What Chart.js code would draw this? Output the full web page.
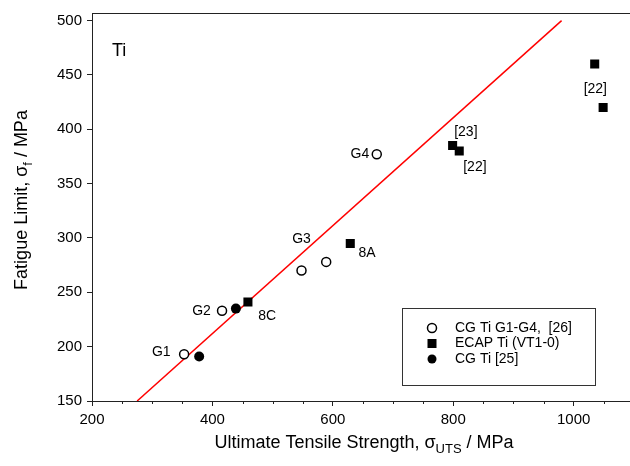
<!DOCTYPE html>
<html>
<head>
<meta charset="utf-8">
<script src="https://cdn.jsdelivr.net/npm/chart.js@4/dist/chart.umd.min.js"></script>
<style>
  body { margin: 0; background: #fff; }
  #wrap { width: 630px; height: 466px; }
</style>
</head>
<body>
<div id="wrap"><canvas id="myChart" width="630" height="466"></canvas></div>
<script>
// -- data --
const seriesNames = ['CG Ti G1-G4,  [26]', 'ECAP Ti (VT1-0)', 'CG Ti [25]'];

const cgUts     = [353, 416, 548, 589, 673];
const cgFatigue = [193, 233, 270, 278, 377];

const ecapUts     = [459, 629, 799, 810, 1035, 1049];
const ecapFatigue = [241, 295, 385, 380, 460, 420];

const cg25Uts     = [378, 439];
const cg25Fatigue = [191, 235];

const fitUts     = [275, 980];
const fitFatigue = [150, 500];

// point annotations (text, x, y in data units)
const noteText = ['G1', 'G2', 'G3', 'G4', '8C', '8A', '[23]', '[22]', '[22]'];
const noteX    = [315, 382, 548, 645, 491, 657, 821, 836, 1036];
const noteY    = [195, 233, 299, 377, 228, 286, 397, 365, 437];

const FONT = "'Liberation Sans', Arial, sans-serif";
const AXIS = '#222';

const toPts = (xs, ys) => xs.map((x, i) => ({ x: x, y: ys[i] }));

const extras = {
    id: 'extras',
    afterDraw(chart) {
        const ctx = chart.ctx;
        const { left, right, top, bottom } = chart.chartArea;
        const xs = chart.scales.x, ys = chart.scales.y;
        ctx.save();

        // top frame line, and bottom axis carried on to the canvas edge
        ctx.strokeStyle = AXIS;
        ctx.lineWidth = 1;
        ctx.beginPath();
        ctx.moveTo(left, top + 0.5);
        ctx.lineTo(630, top + 0.5);
        ctx.moveTo(right - 1, Math.round(bottom) + 0.5);
        ctx.lineTo(630, Math.round(bottom) + 0.5);
        ctx.stroke();

        // minor x ticks (short)
        ctx.beginPath();
        for (let v = 250; v < xs.max; v += 50) {
            if (v % 200 === 0) continue;
            const px = Math.round(xs.getPixelForValue(v)) + 0.5;
            ctx.moveTo(px, bottom);
            ctx.lineTo(px, bottom + 3);
        }
        ctx.stroke();

        // point labels
        ctx.fillStyle = '#000';
        ctx.font = '14px ' + FONT;
        ctx.textAlign = 'center';
        ctx.textBaseline = 'middle';
        noteText.forEach((t, i) => {
            ctx.fillText(t, xs.getPixelForValue(noteX[i]), ys.getPixelForValue(noteY[i]));
        });

        // "Ti"
        ctx.font = '18px ' + FONT;
        ctx.textAlign = 'left';
        ctx.textBaseline = 'alphabetic';
        ctx.fillText('Ti', 112, 56);

        // axis titles with subscripts
        drawSub(ctx, [['Ultimate Tensile Strength, \u03c3', false], ['UTS', true], [' / MPa', false]], 364, 448);
        ctx.save();
        ctx.translate(27, 200);
        ctx.rotate(-Math.PI / 2);
        drawSub(ctx, [['Fatigue Limit, \u03c3', false], ['f', true], [' / MPa', false]], 0, 0);
        ctx.restore();

        // legend box
        const lx = 402.5, ly = 308.5, lw = 193, lh = 77;
        ctx.fillStyle = '#fff';
        ctx.fillRect(lx, ly, lw, lh);
        ctx.strokeStyle = '#333';
        ctx.strokeRect(lx, ly, lw, lh);
        const rows = [328, 343.5, 359];
        chart.data.datasets.slice(0, 3).forEach((ds, i) => {
            const y = rows[i], x = 432;
            ctx.beginPath();
            if (ds.pointStyle === 'rect') {
                ctx.fillStyle = '#000';
                ctx.fillRect(x - 4.5, y - 4.5, 9, 9);
            } else {
                ctx.arc(x, y, 4.5, 0, Math.PI * 2);
                if (ds.pointBackgroundColor === '#fff') {
                    ctx.fillStyle = '#fff';
                    ctx.fill();
                    ctx.lineWidth = 1.5;
                    ctx.strokeStyle = '#000';
                    ctx.stroke();
                } else {
                    ctx.fillStyle = '#000';
                    ctx.fill();
                }
            }
            ctx.fillStyle = '#000';
            ctx.font = '14px ' + FONT;
            ctx.textAlign = 'left';
            ctx.textBaseline = 'middle';
            ctx.fillText(ds.label, 455, y);
        });
        ctx.restore();
    }
};

function drawSub(ctx, parts, cx, baseline) {
    const big = '18px ' + FONT, small = '13px ' + FONT;
    let w = 0;
    parts.forEach(p => { ctx.font = p[1] ? small : big; w += ctx.measureText(p[0]).width; });
    let x = cx - w / 2;
    ctx.fillStyle = '#000';
    ctx.textAlign = 'left';
    ctx.textBaseline = 'alphabetic';
    parts.forEach(p => {
        ctx.font = p[1] ? small : big;
        ctx.fillText(p[0], x, baseline + (p[1] ? 5 : 0));
        x += ctx.measureText(p[0]).width;
    });
}

const ctx = document.getElementById('myChart').getContext('2d');
const myChart = new Chart(ctx, {
    type: 'scatter',
    data: {
        datasets: [
            { label: seriesNames[0], data: toPts(cgUts, cgFatigue),
              pointStyle: 'circle', pointRadius: 4.5, pointBorderWidth: 1.5,
              pointBackgroundColor: '#fff', pointBorderColor: '#000' },
            { label: seriesNames[1], data: toPts(ecapUts, ecapFatigue),
              pointStyle: 'rect', pointRadius: 6.4, pointBorderWidth: 0,
              pointBackgroundColor: '#000', pointBorderColor: '#000' },
            { label: seriesNames[2], data: toPts(cg25Uts, cg25Fatigue),
              pointStyle: 'circle', pointRadius: 5, pointBorderWidth: 0,
              pointBackgroundColor: '#000', pointBorderColor: '#000' },
            { label: 'fit', data: toPts(fitUts, fitFatigue), showLine: true,
              borderColor: '#ff0000', borderWidth: 1.5, pointRadius: 0 }
        ]
    },
    options: {
        responsive: false,
        animation: false,
        events: [],
        layout: { padding: { top: 13, right: 0, left: 0, bottom: 0 } },
        plugins: { legend: { display: false }, tooltip: { enabled: false } },
        scales: {
            x: {
                // plot area stops at ~625px here, so max is set to keep the reference's px per MPa
                type: 'linear', min: 200, max: 1083,
                afterFit: s => { s.height = 65; s.paddingLeft = 0; s.paddingRight = 0; },
                border: { color: AXIS, width: 1 },
                grid: { drawOnChartArea: false, tickLength: 5,
                        tickColor: c => (c.tick && c.tick.value % 200 === 0) ? AXIS : 'rgba(0,0,0,0)' },
                ticks: { stepSize: 50, includeBounds: false, color: '#000', padding: 5,
                         font: { family: FONT, size: 15 },
                         maxRotation: 0, autoSkip: false,
                         callback: v => v % 200 === 0 ? v : '' }
            },
            y: {
                type: 'linear', min: 150, max: 507,
                afterFit: s => { s.width = 92; s.paddingTop = 0; s.paddingBottom = 0; },
                border: { color: AXIS, width: 1 },
                grid: { drawOnChartArea: false, tickLength: 5, tickColor: AXIS },
                ticks: { stepSize: 50, includeBounds: false, color: '#000', padding: 5,
                         font: { family: FONT, size: 15 } }
            }
        }
    },
    plugins: [extras]
});
</script>
</body>
</html>
